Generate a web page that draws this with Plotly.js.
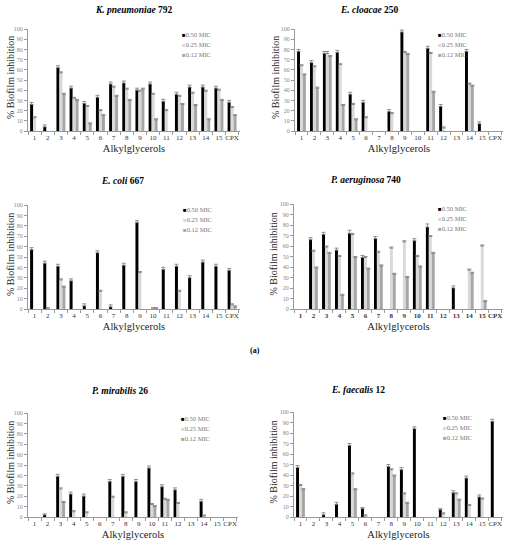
<!DOCTYPE html>
<html>
<head>
<meta charset="utf-8">
<script src="https://cdn.plot.ly/plotly-3.0.1.min.js"></script>
<style>
  html, body { margin: 0; padding: 0; background: #fff; }
  #chart { width: 511px; height: 550px; }
</style>
</head>
<body>
<div id="chart"></div>
<script>
// categories and series (% biofilm inhibition)
const categories = ['1','2','3','4','5','6','7','8','9','10','11','12','13','14','15','CPX'];
const seriesNames = ['0.50 MIC', '0.25 MIC', '0.12 MIC'];
const _ = null; // no error bar

// K. pneumoniae 792
const kp50 = [26, 4, 62, 42, 27, 33, 46, 47, 40, 46, 29, 36, 43, 43, 42, 28];
const kp25 = [13, 0, 57, 32, 24, 20, 43, 41, 39, 36, 20, 34, 37, 39, 40, 23];
const kp12 = [0, 0, 36, 30, 7, 15, 34, 30, 41, 11, 0, 26, 25, 11, 30, 15];
const kpE50 = [2, 2, 2, 2, 2, 2, 2, 2, 2, 2, 2, 2, 2, 2, 2, 2];
const kpE25 = [1, _, 1, 1, 1, 1, 1, 1, 1, 1, 1, 1, 1, 1, 1, 1];
const kpE12 = [_, _, 1, 1, 1, 1, 1, 1, 1, 1, _, 1, 1, 1, 1, 1];

// E. cloacae 250
const ec50 = [78, 67, 76, 77, 36, 28, 0, 19, 97, 0, 81, 24, 0, 78, 7, 0];
const ec25 = [64, 63, 76, 65, 26, 13, 0, 17, 77, 0, 76, 3, 0, 46, 0, 0];
const ec12 = [55, 42, 73, 25, 11, 0, 0, 0, 75, 0, 38, 0, 0, 44, 0, 0];
const ecE50 = [2, 2, 2, 2, 2, 2, _, 2, 2, _, 2, 2, _, 2, 2, _];
const ecE25 = [1, 1, 2, 1, 1, 1, _, 1, 1, _, 1, 1, _, 1, _, _];
const ecE12 = [1, 1, 1, 1, 1, _, _, _, 1, _, 1, _, _, 1, _, _];

// E. coli 667
const eco50 = [57, 44, 41, 27, 3, 54, 2, 42, 83, 0, 38, 41, 30, 45, 41, 37];
const eco25 = [0, 1, 28, 0, 0, 17, 0, 0, 35, 1, 0, 17, 0, 0, 0, 4];
const eco12 = [0, 0, 21, 0, 0, 0, 0, 0, 0, 1, 0, 0, 0, 0, 0, 2];
const ecoE50 = [2, 2, 2, 2, 2, 2, 2, 2, 2, _, 2, 2, 2, 2, 2, 2];
const ecoE25 = [_, _, 1, _, _, 1, _, _, 1, _, _, 1, _, _, _, 1];
const ecoE12 = [_, _, 1, _, _, _, _, _, _, _, _, _, _, _, _, 1];

// P. aeruginosa 740
const pa50 = [0, 66, 71, 56, 72, 49, 67, 0, 0, 65, 78, 0, 20, 0, 0, 0];
const pa25 = [0, 55, 59, 50, 71, 49, 54, 58, 64, 50, 69, 0, 0, 37, 60, 0];
const pa12 = [0, 39, 53, 13, 49, 38, 41, 33, 30, 40, 53, 0, 0, 34, 7, 0];
const paE50 = [_, 2, 2, 2, 3, 2, 2, _, _, 2, 3, _, 2, _, _, _];
const paE25 = [_, 1, 1, 1, 1, 1, 1, 1, 1, 1, 1, _, _, 1, 1, _];
const paE12 = [_, 1, 1, 1, 1, 1, 1, 1, 1, 1, 1, _, _, 1, 1, _];

// P. mirabilis 26
const pm50 = [0, 2, 39, 22, 20, 0, 34, 39, 34, 47, 29, 26, 0, 15, 0, 0];
const pm25 = [0, 0, 27, 5, 4, 0, 19, 4, 0, 12, 17, 13, 0, 1, 0, 0];
const pm12 = [0, 0, 14, 0, 0, 0, 0, 0, 0, 10, 16, 0, 0, 0, 0, 0];
const pmE50 = [_, 1, 2, 2, 2, _, 2, 2, 2, 2, 2, 2, _, 2, _, _];
const pmE25 = [_, _, 1, 1, 1, _, 1, 1, _, 1, 1, 1, _, 1, _, _];
const pmE12 = [_, _, 1, _, _, _, _, _, _, 1, 1, _, _, _, _, _];

// E. faecalis 12
const ef50 = [47, 0, 2, 12, 68, 8, 0, 48, 45, 84, 0, 7, 23, 37, 19, 91];
const ef25 = [30, 0, 0, 0, 41, 1, 0, 45, 22, 0, 0, 3, 22, 11, 17, 0];
const ef12 = [26, 0, 0, 0, 26, 0, 0, 39, 13, 0, 0, 0, 16, 0, 0, 0];
const efE50 = [2, _, 2, 2, 2, 1, _, 2, 2, 2, _, 1, 2, 2, 2, 2];
const efE25 = [1, _, _, _, 1, 1, _, 1, 1, _, _, 1, 1, 1, 1, _];
const efE12 = [1, _, _, _, 1, _, _, 1, 1, _, _, _, 1, _, _, _];

const colors = ['#000000', '#d9d9d9', '#a6a6a6'];
const W = 511, H = 550;
const px = (x) => x / W;
const py = (y) => 1 - y / H;
const serif = 'Liberation Serif, DejaVu Serif, serif';

// pixel boxes for each panel; yt = x of the rotated y title
const panels = [
  { title: '<b><i>K. pneumoniae</i> 792</b>', vals: [kp50, kp25, kp12], errs: [kpE50, kpE25, kpE12],
    box: [28, 240, 29, 131], tx: 134, ty: 10, lx: 180, ly: 35, yt: 10 },
  { title: '<b><i>E. cloacae</i> 250</b>', vals: [ec50, ec25, ec12], errs: [ecE50, ecE25, ecE12],
    box: [295, 503, 29, 131], tx: 369, ty: 10, lx: 436, ly: 35, yt: 275 },
  { title: '<b><i>E. coli</i> 667</b>', vals: [eco50, eco25, eco12], errs: [ecoE50, ecoE25, ecoE12],
    box: [28, 240, 205, 309], tx: 122, ty: 181, lx: 181, ly: 209, yt: 10 },
  { title: '<b><i>P. aeruginosa</i> 740</b>', vals: [pa50, pa25, pa12], errs: [paE50, paE25, paE12],
    box: [294, 503, 204, 309], tx: 366, ty: 180, lx: 436, ly: 208, yt: 273, boldTicks: true },
  { title: '<b><i>P. mirabilis</i> 26</b>', vals: [pm50, pm25, pm12], errs: [pmE50, pmE25, pmE12],
    box: [28, 238, 413, 517], tx: 120, ty: 391, lx: 179, ly: 418, yt: 10 },
  { title: '<b><i>E. faecalis</i> 12</b>', vals: [ef50, ef25, ef12], errs: [efE50, efE25, efE12],
    box: [294, 503, 412, 517], tx: 358, ty: 390, lx: 441, ly: 417, yt: 273 }
];

const data = [];
const layout = {
  width: W, height: H,
  margin: { l: 0, r: 0, t: 0, b: 0 },
  paper_bgcolor: '#fff', plot_bgcolor: '#fff',
  showlegend: false,
  barmode: 'group', bargap: 0.32, bargroupgap: 0,
  font: { family: serif, color: '#333' },
  annotations: [
    { text: '<b>(a)</b>', x: px(255), y: py(350), xref: 'paper', yref: 'paper',
      xanchor: 'center', yanchor: 'middle', showarrow: false, font: { size: 8, color: '#000' } }
  ]
};

panels.forEach((p, i) => {
  const n = i === 0 ? '' : String(i + 1);
  const [x0, x1, y0, y1] = p.box;
  p.vals.forEach((v, k) => {
    const err = p.errs[k];
    data.push({
      type: 'bar', x: categories,
      y: v.map((val) => (val === 0 ? null : val)), // no bar drawn where there is no inhibition
      name: seriesNames[k],
      xaxis: 'x' + n, yaxis: 'y' + n,
      marker: { color: colors[k], line: { width: 0 } },
      error_y: { type: 'data', array: err, symmetric: false,
        arrayminus: err.map((e) => (e === null ? null : 0)),
        color: '#777', thickness: 0.8, width: 2 }
    });
  });
  layout['xaxis' + n] = {
    domain: [px(x0), px(x1)], anchor: 'y' + n, type: 'category',
    range: [-0.5, 15.6], showline: true, linecolor: '#999', linewidth: 1,
    ticks: 'outside', tickson: 'boundaries', ticklen: 3, tickcolor: '#999', tickangle: 0,
    tickfont: { size: 7, color: '#333', family: serif, weight: p.boldTicks ? 'bold' : 'normal' },
    showgrid: false, zeroline: false, fixedrange: true,
    title: { text: 'Alkylglycerols', font: { size: 10.5, color: '#222', family: serif }, standoff: 3 }
  };
  layout['yaxis' + n] = {
    domain: [py(y1), py(y0)], anchor: 'x' + n,
    range: [0, 100], dtick: 10, showline: true, linecolor: '#999', linewidth: 1,
    ticks: 'outside', ticklen: 3, tickcolor: '#999',
    tickfont: { size: 6, color: '#888', family: serif },
    showgrid: false, zeroline: false, fixedrange: true
  };
  layout.annotations.push({
    text: '% Biofilm inhibition', textangle: -90,
    x: px(p.yt), y: py((y0 + y1) / 2 - 2), xref: 'paper', yref: 'paper',
    xanchor: 'center', yanchor: 'middle', showarrow: false,
    font: { size: 10, color: '#222', family: serif }
  });
  layout.annotations.push({
    text: p.title, x: px(p.tx), y: py(p.ty), xref: 'paper', yref: 'paper',
    xanchor: 'center', yanchor: 'middle', showarrow: false,
    font: { size: 9.5, color: '#000', family: serif }
  });
  seriesNames.forEach((s, k) => {
    layout.annotations.push({
      text: '<span style="color:' + colors[k] + ';font-size:6px">■</span>' + s,
      x: px(p.lx), y: py(p.ly + k * 10), xref: 'paper', yref: 'paper',
      xanchor: 'left', yanchor: 'middle', showarrow: false,
      font: { size: 6.5, color: '#777', family: serif }
    });
  });
});

Plotly.newPlot('chart', data, layout, { displayModeBar: false, staticPlot: true });
</script>
</body>
</html>
